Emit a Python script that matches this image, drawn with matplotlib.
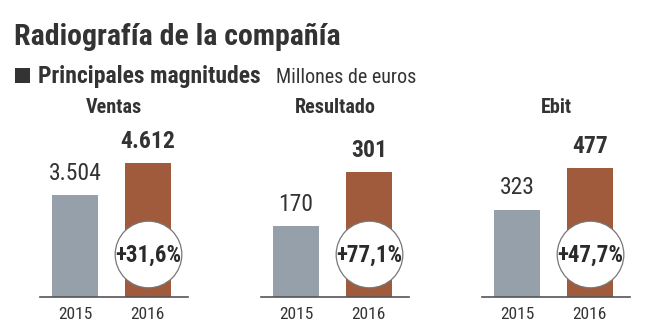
import matplotlib
matplotlib.use("Agg")
import matplotlib.pyplot as plt
from matplotlib import transforms
from matplotlib.patches import Rectangle

# Data (millones de euros)
panels = ["Ventas", "Resultado", "Ebit"]
years = ["2015", "2016"]
ventas = [3504, 4612]
resultado = [170, 301]
ebit = [323, 477]

plt.rcParams["font.family"] = ["Roboto Condensed", "DejaVu Sans"]

TXT = "#333333"
GRAY = "#95a0ab"
BROWN = "#a05a3c"

W, H = 664, 332
fig = plt.figure(figsize=(W / 100, H / 100), dpi=100)
fig.patch.set_facecolor("white")


def fx(px):
    return px / W


def fy(py):
    return (H - py) / H


# Header
fig.text(fx(14), fy(45), "Radiografía de la compañía", fontsize=21.5, fontweight="bold",
         color=TXT, va="baseline")
fig.add_artist(Rectangle((fx(15), fy(83)), fx(15), 15 / H, transform=fig.transFigure,
                         color=TXT, lw=0))
fig.text(fx(38), fy(83), "Principales magnitudes", fontsize=17, fontweight="bold",
         color=TXT, va="baseline")
fig.text(fx(276), fy(83), "Millones de euros", fontsize=14.5, color=TXT, va="baseline")

series = [ventas, resultado, ebit]
ylim_top = [5400, 378, 580]
ax_left = [40, 261, 482]
ax_w, ax_bottom, ax_top = 148, 297, 140
ax_hpx = ax_bottom - ax_top


def miles(v):
    return f"{v:,}".replace(",", ".")


for name, vals, top, left in zip(panels, series, ylim_top, ax_left):
    ax = fig.add_axes([fx(left), fy(ax_bottom), ax_w / W, ax_hpx / H])
    x = [0, 1]
    ax.bar(x, vals, width=0.63, color=[GRAY, BROWN], zorder=2)
    ax.set_xlim(-0.48, 1.55)
    ax.set_ylim(0, top)

    for s in ["top", "right", "left"]:
        ax.spines[s].set_visible(False)
    ax.spines["bottom"].set_color("#555555")
    ax.spines["bottom"].set_linewidth(1.2)
    ax.set_yticks([])
    ax.set_xticks(x, years)
    ax.tick_params(axis="x", length=0, pad=7, labelsize=12.5, labelcolor=TXT)

    # panel heading
    ax.text(0.5, (ax_bottom - 113) / ax_hpx, name, transform=ax.transAxes,
            ha="center", va="baseline", fontsize=14.5, fontweight="bold", color=TXT)

    # value labels
    for xi, v, wt in zip(x, vals, ["normal", "bold"]):
        ax.annotate(miles(v), (xi, v), xytext=(0, 11), textcoords="offset points",
                    ha="center", va="baseline", fontsize=17, fontweight=wt, color=TXT)

    # growth badge on the 2016 bar
    growth = (vals[1] / vals[0] - 1) * 100
    label = f"+{growth:.1f}%".replace(".", ",")
    trans = transforms.blended_transform_factory(ax.transData, ax.transAxes)
    ax.scatter([1], [43 / ax_hpx], s=48 ** 2, marker="o", facecolor="white",
               edgecolor="#777777", linewidth=0.9, transform=trans, zorder=3, clip_on=False)
    ax.text(1, 35 / ax_hpx, label, transform=trans, ha="center", va="baseline",
            fontsize=16.5, fontweight="bold", color="#2a2a2a", zorder=4)

fig.savefig("out.png", dpi=100, facecolor="white")
